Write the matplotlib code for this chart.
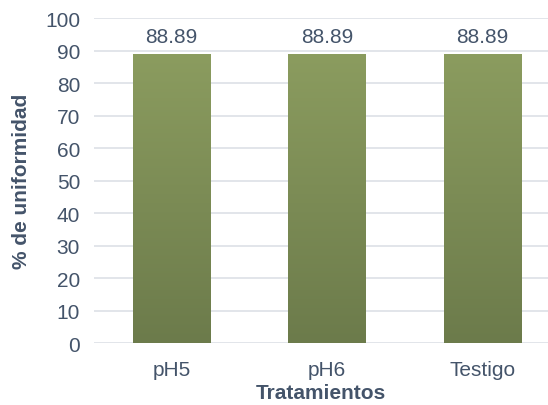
import numpy as np
import matplotlib.pyplot as plt
from matplotlib.colors import LinearSegmentedColormap

tratamientos = ['pH5', 'pH6', 'Testigo']
uniformidad = [88.89, 88.89, 88.89]
yticks = list(range(0, 101, 10))

plt.rcParams['font.family'] = ['Liberation Sans', 'DejaVu Sans']
color_texto = '#44546a'

fig = plt.figure(figsize=(5.48, 4.06), dpi=100)
ax = fig.add_axes([0.1715, 0.1527, 0.8285, 0.8005])

x = np.arange(len(tratamientos))
barras = ax.bar(x, uniformidad, width=0.5, color='none', edgecolor='none', zorder=2)

# degradado vertical en cada barra
grad = np.linspace(0, 1, 256).reshape(-1, 1)
cmap = LinearSegmentedColormap.from_list('verde', ['#6c7b4b', '#8b9c5f'])
for b in barras:
    x0, y0 = b.get_x(), b.get_y()
    w, h = b.get_width(), b.get_height()
    im = ax.imshow(grad, cmap=cmap, aspect='auto', origin='lower',
                   extent=(x0, x0 + w, y0, y0 + h), zorder=2)
    im.set_clip_path(b)

for xi, v in zip(x, uniformidad):
    ax.annotate(f'{v:.2f}', (xi, v), xytext=(0, 6), textcoords='offset points',
                ha='center', va='bottom', fontsize=15, color=color_texto)

ax.set_xlim(-0.5, 2.42)
ax.set_ylim(0, 100)
ax.set_yticks(yticks)
ax.set_xticks(x)
ax.set_xticklabels(tratamientos)
ax.grid(axis='y', color='#dde0e6', linewidth=1.2, zorder=0)
ax.set_axisbelow(True)
for s in ax.spines.values():
    s.set_visible(False)
ax.tick_params(length=0, labelsize=15, labelcolor=color_texto)
ax.tick_params(axis='x', pad=12)
ax.tick_params(axis='y', pad=10)
ax.set_xlabel('Tratamientos', fontsize=15, fontweight='bold', color=color_texto, labelpad=3)
ax.set_ylabel('% de uniformidad', fontsize=15, fontweight='bold', color=color_texto, labelpad=10)

plt.savefig('out.png', dpi=100)
